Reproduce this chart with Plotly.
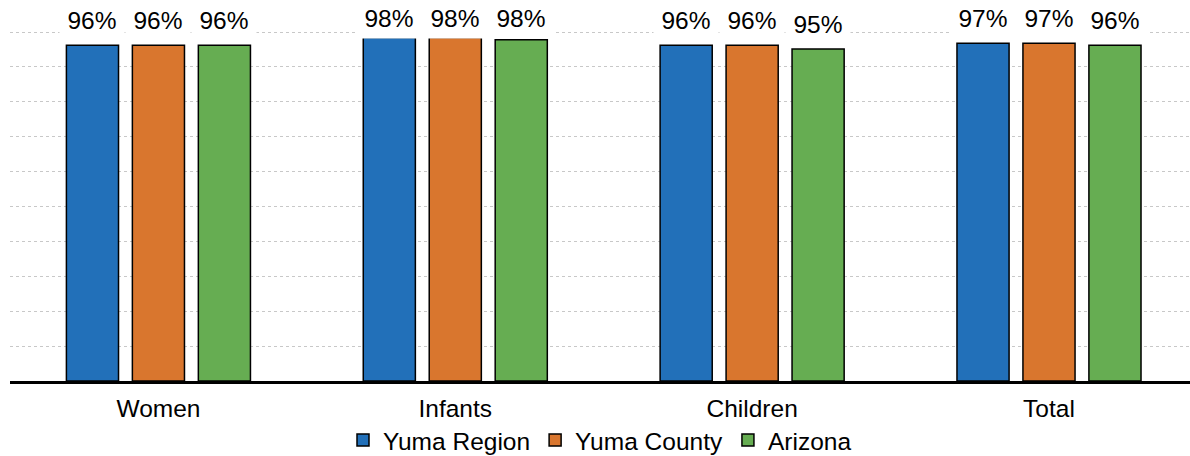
import plotly.graph_objects as go

categories = ["Women", "Infants", "Children", "Total"]
series_names = ["Yuma Region", "Yuma County", "Arizona"]
yuma_region = [0.962, 0.984, 0.962, 0.968]
yuma_county = [0.962, 0.984, 0.962, 0.968]
arizona = [0.962, 0.978, 0.951, 0.962]
colors = ["#2270B9", "#D9762E", "#66AD52"]

series = [yuma_region, yuma_county, arizona]
FONT = "Liberation Sans, Arial, sans-serif"
FS = 24.5

fig = go.Figure()
for name, vals, col in zip(series_names, series, colors):
    fig.add_trace(go.Bar(
        name=name, x=categories, y=vals,
        marker=dict(color=col, line=dict(color="black", width=1.5)),
        hoverinfo="skip",
    ))

bargap = 1 / 3
slot = (1 - bargap) / 3
annotations = []
for i, vals in enumerate(series):
    for j, v in enumerate(vals):
        annotations.append(dict(
            x=j + (i - 1) * slot, y=min(v, 0.967), xref="x", yref="y",
            text=f"{round(v * 100)}%", showarrow=False,
            yanchor="middle", yshift=25.5,
            font=dict(family=FONT, size=FS, color="black"),
            bgcolor="white", width=60, height=36, borderpad=2, valign="middle",
        ))

fig.update_layout(
    width=1190, height=456,
    margin=dict(l=10, r=0, t=29, b=75, autoexpand=False),
    paper_bgcolor="white", plot_bgcolor="white",
    barmode="group", bargap=bargap, bargroupgap=0.21,
    font=dict(family=FONT, size=FS, color="black"),
    showlegend=True,
    legend=dict(orientation="h", x=0.5, xanchor="center", y=-0.168, yanchor="middle",
                font=dict(family=FONT, size=FS, color="black"), itemwidth=30,
                traceorder="normal"),
    annotations=annotations,
)
fig.update_xaxes(range=[-0.5, 3.475], showline=True, linecolor="black", linewidth=3,
                 ticks="", showgrid=False, ticklabelstandoff=4,
                 tickfont=dict(family=FONT, size=FS, color="black"))
fig.update_yaxes(range=[0, 1.0086], tick0=0, dtick=0.1, showticklabels=False, showgrid=True,
                 gridcolor="#c8c8c8", griddash="dot", gridwidth=1, zeroline=False,
                 showline=False)

fig.write_html("out.html", config={"displayModeBar": False},
               post_script="document.body.style.margin='0';")
